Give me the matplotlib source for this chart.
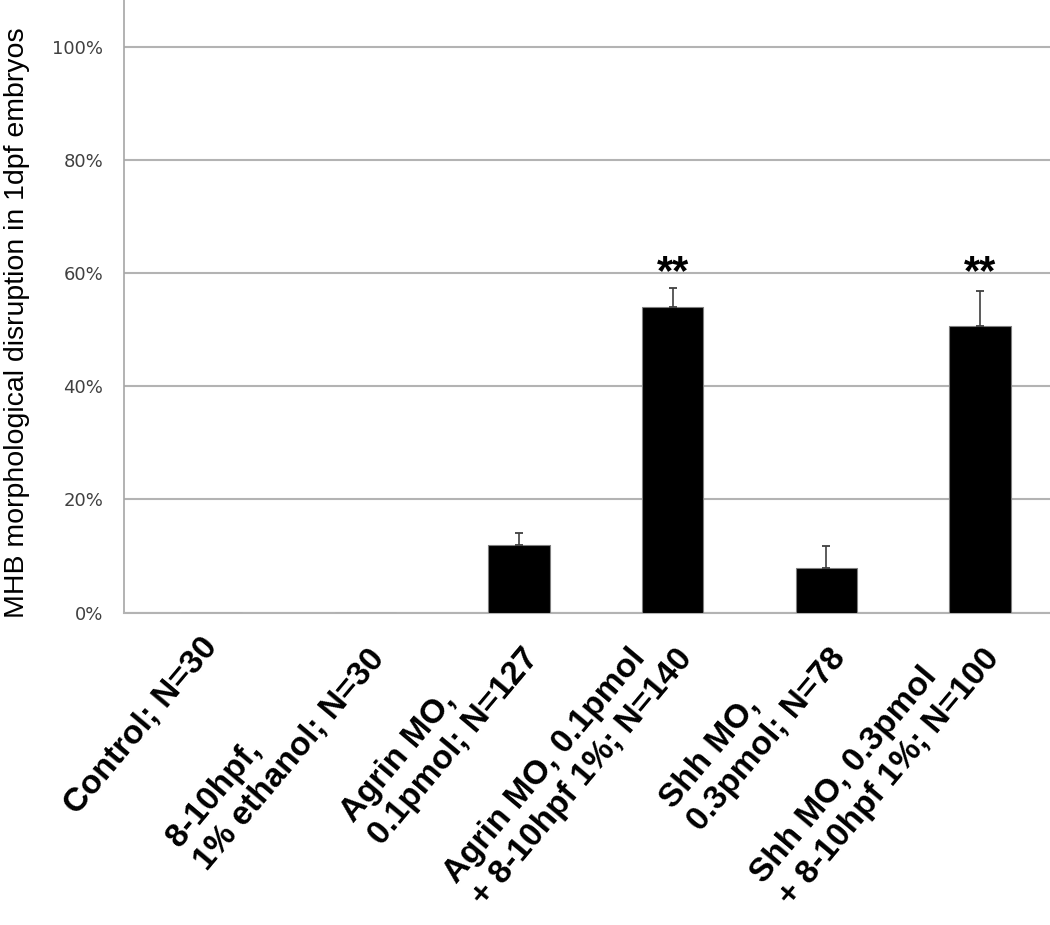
import matplotlib
matplotlib.use('Agg')
import matplotlib.pyplot as plt
from matplotlib.ticker import PercentFormatter
import numpy as np

# groups (x labels), % MHB disruption, upper error, significance marks
groups = ['Control; N=30',
          '8-10hpf,\n1% ethanol; N=30',
          'Agrin MO,\n0.1pmol; N=127',
          'Agrin MO, 0.1pmol\n+ 8-10hpf 1%; N=140',
          'Shh MO,\n0.3pmol; N=78',
          'Shh MO, 0.3pmol\n+ 8-10hpf 1%; N=100']
pct = [0, 0, 12.0, 54.1, 7.9, 50.7]
err = [0, 0, 2.1, 3.3, 3.9, 6.2]
marks = ['', '', '', '**', '', '**']
STAR_Y = 60.0

fig = plt.figure(figsize=(10.5, 9.25), dpi=100)
ax = fig.add_axes([124 / 1050, 1 - 612.5 / 925, 1 - 124 / 1050, 612.5 / 925])

x = np.arange(len(groups))
ax.bar(x, pct, width=0.4, color='black', edgecolor='#7f7f7f', linewidth=0.8, zorder=3)

has = [i for i in range(len(err)) if err[i] > 0]
ax.errorbar(x[has], [pct[i] for i in has],
            yerr=[np.zeros(len(has)), [err[i] for i in has]],
            fmt='none', ecolor='#404040', elinewidth=1.2, capsize=3, capthick=1.3, zorder=4)

for i, m in enumerate(marks):
  if m:
    ax.text(x[i], STAR_Y, m, ha='center', va='center', fontsize=30,
            fontweight='bold', family='Liberation Sans', color='black')

ax.set_xlim(-0.57, 5.455)
ax.set_ylim(0, 108.4)
ax.set_yticks([0, 20, 40, 60, 80, 100])
ax.yaxis.set_major_formatter(PercentFormatter(xmax=100, decimals=0))
ax.yaxis.grid(True, color='#b3b3b3', lw=1.5)
ax.set_axisbelow(True)
for s in ['top', 'right']:
  ax.spines[s].set_visible(False)
ax.spines['left'].set_color('#a6a6a6')
ax.spines['left'].set_linewidth(1.2)
ax.spines['bottom'].set_color('#b3b3b3')
ax.spines['bottom'].set_linewidth(1.5)
ax.tick_params(axis='y', length=0, pad=15, labelsize=13, labelcolor='#404040')

ax.set_xticks(x, groups)
ax.tick_params(axis='x', length=0, pad=21)
for lab in ax.get_xticklabels():
  lab.set(rotation=50, ha='right', va='center', rotation_mode='anchor',
          multialignment='left', fontsize=24, fontweight='bold',
          family='Liberation Sans', linespacing=1.2)

fig.text(17.5 / 1050, 1 - 322.5 / 925, 'MHB morphological disruption in 1dpf embryos',
         rotation=90, ha='center', va='center', fontsize=20.5, family='Liberation Sans')

fig.savefig('out.png', dpi=100)
